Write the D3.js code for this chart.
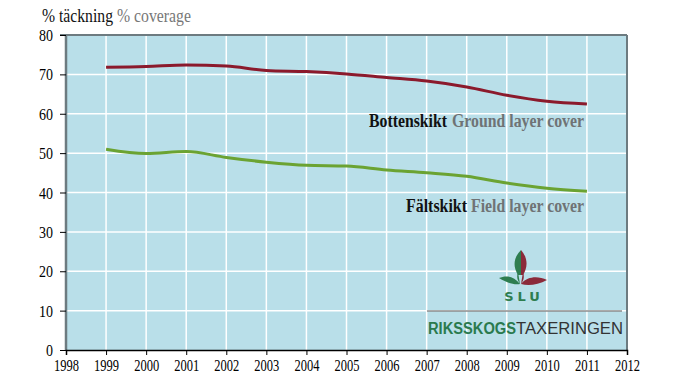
<!DOCTYPE html>
<html><head><meta charset="utf-8">
<script src="https://cdn.jsdelivr.net/npm/d3@7"></script>
<style>body{margin:0;background:#fff}svg{display:block}</style>
</head><body>
<svg id="c" width="680" height="382"></svg>
<script>
const years = [1999,2000,2001,2002,2003,2004,2005,2006,2007,2008,2009,2010,2011];
const groundCover = [71.8,72.0,72.4,72.1,71.0,70.7,70.1,69.2,68.3,66.8,64.7,63.2,62.5];
const fieldCover = [51.0,49.9,50.4,48.9,47.7,46.9,46.7,45.7,45.0,44.1,42.4,41.1,40.3];
const xTicks = d3.range(1998, 2013);
const yTicks = [0,10,20,30,40,50,60,70,80];

const SERIF = "Liberation Serif";
const svg = d3.select("#c");
const L=66, R=627, T=35, B=350;
const x = d3.scaleLinear().domain([1998,2012]).range([L,R]);
const y = d3.scaleLinear().domain([0,80]).range([B,T]);

svg.append("rect").attr("x",L).attr("y",T).attr("width",R-L).attr("height",B-T).attr("fill","#b9dfe9");
// grid
svg.append("g").selectAll("line").data(xTicks.slice(1,-1)).join("line")
  .attr("x1",d=>x(d)).attr("x2",d=>x(d)).attr("y1",T).attr("y2",B)
  .attr("stroke","#fff").attr("stroke-width",1.5);
svg.append("g").selectAll("line").data(yTicks.slice(1,-1)).join("line")
  .attr("x1",L).attr("x2",R).attr("y1",d=>y(d)).attr("y2",d=>y(d))
  .attr("stroke","#fff").attr("stroke-width",1.5);
// frame
svg.append("line").attr("x1",60).attr("x2",R).attr("y1",T).attr("y2",T).attr("stroke","#6d7b80").attr("stroke-width",2);
svg.append("line").attr("x1",L).attr("x2",L).attr("y1",T).attr("y2",B).attr("stroke","#6d7b80").attr("stroke-width",2.5);
svg.append("line").attr("x1",R).attr("x2",R).attr("y1",T).attr("y2",B).attr("stroke","#6d7b80").attr("stroke-width",2);

// axes
const gy = svg.append("g").attr("transform",`translate(${L},0)`)
  .call(d3.axisLeft(y).tickValues(yTicks).tickSize(6).tickPadding(7));
gy.attr("font-family",SERIF).attr("font-size",17.5);
gy.select(".domain").remove();
gy.selectAll("line").attr("stroke","#000");
gy.selectAll("text").attr("fill","#000")
  .attr("textLength",d=>String(d).length*7).attr("lengthAdjust","spacingAndGlyphs");
const gx = svg.append("g").attr("transform",`translate(0,${B})`)
  .call(d3.axisBottom(x).tickValues(xTicks).tickFormat(d3.format("d")).tickSize(5).tickPadding(4));
gx.attr("font-family",SERIF).attr("font-size",17.5);
gx.select(".domain").attr("stroke","#000").attr("stroke-width",1.5);
gx.selectAll("line").attr("stroke","#000");
gx.selectAll("text").attr("fill","#000").attr("textLength",25).attr("lengthAdjust","spacingAndGlyphs");

// lines
const line = d3.line().x((d,i)=>x(years[i])).y(d=>y(d)).curve(d3.curveMonotoneX);
svg.append("path").datum(groundCover).attr("d",line).attr("fill","none").attr("stroke","#8b1a2c").attr("stroke-width",3);
svg.append("path").datum(fieldCover).attr("d",line).attr("fill","none").attr("stroke","#6ba332").attr("stroke-width",3);

// text helper
function txt(x0, x1, yy, s, opts){
  return svg.append("text").attr("font-family",opts.family||SERIF).attr("x",x0).attr("y",yy)
    .attr("font-size",opts.size).attr("font-weight",opts.weight||"normal").attr("fill",opts.fill)
    .attr("textLength",x1-x0).attr("lengthAdjust","spacingAndGlyphs").text(s);
}
const lab = {size:18, weight:"bold"};
txt(369,447,127,"Bottenskikt",{...lab,fill:"#111"});
txt(452,584,127,"Ground layer cover",{...lab,fill:"#6f7375"});
txt(406,467,212,"Fältskikt",{...lab,fill:"#111"});
txt(471,584,212,"Field layer cover",{...lab,fill:"#6f7375"});

// title
txt(42,113,22,"% täckning",{size:18,fill:"#111"});
txt(117,191,22,"% coverage",{size:18,fill:"#777"});

// logo
const lg = svg.append("g");
lg.append("path").attr("d","M521,250 C513,258 513,267 518,275 L521,275 Z").attr("fill","#2e7d4f");
lg.append("path").attr("d","M521,250 C528,258 528,267 523,275 L521,275 Z").attr("fill","#8b2a3a");
lg.append("path").attr("d","M518,272 C516,278 518,281 520,284 C514,276 506,275 499,278 C507,283 514,285 520,284").attr("fill","#2e7d4f");
lg.append("path").attr("d","M523,272 C525,278 523,281 521,284 C528,276 538,276 547,280 C538,285 528,286 521,284").attr("fill","#8b2a3a");
svg.append("text").attr("x",524).attr("y",301).attr("text-anchor","middle")
  .attr("font-family","DejaVu Sans").attr("font-size",13).attr("font-weight","bold")
  .attr("letter-spacing",4).attr("fill","#2e7d4f").text("SLU");
svg.append("line").attr("x1",427).attr("x2",622).attr("y1",311).attr("y2",311).attr("stroke","#555").attr("stroke-width",1);
txt(428,516,334,"RIKSSKOGS",{family:"Liberation Sans",size:16,weight:"bold",fill:"#2a7a4e"});
txt(516,623,334,"TAXERINGEN",{family:"Liberation Sans",size:16,fill:"#333"});
</script>
</body></html>
